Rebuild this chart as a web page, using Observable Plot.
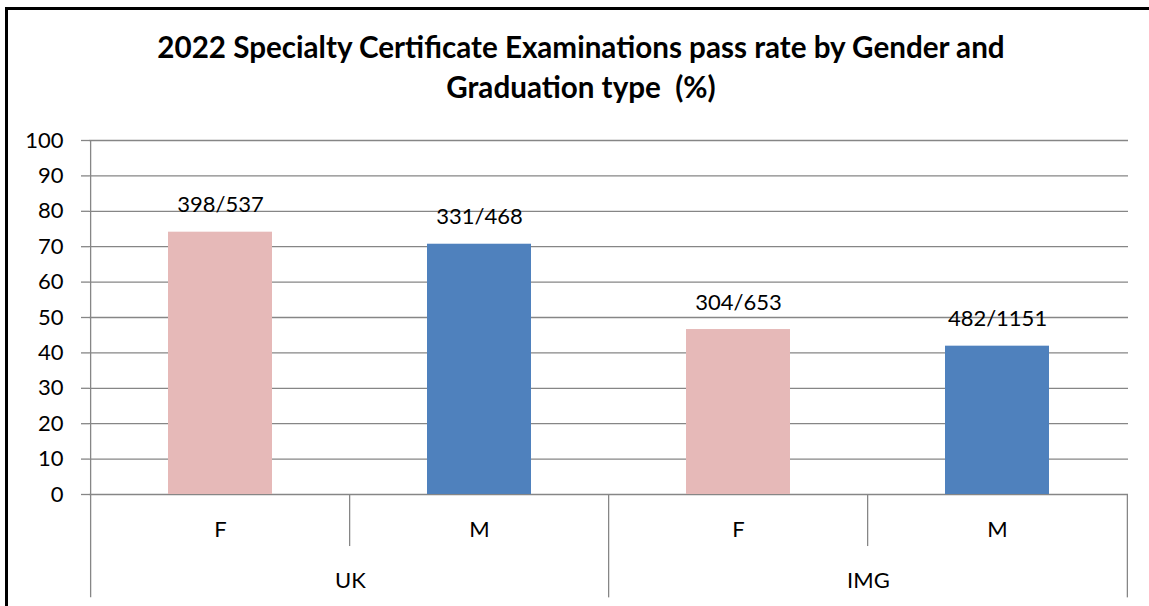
<!DOCTYPE html>
<html>
<head>
<meta charset="utf-8">
<script src="https://cdn.jsdelivr.net/npm/d3@7"></script>
<script src="https://cdn.jsdelivr.net/npm/@observablehq/plot@0.6"></script>
<style>
  html, body { margin: 0; padding: 0; background: #fff; }
  #wrap { position: relative; width: 1149px; height: 606px; overflow: hidden; font-family: Lato, "Open Sans", sans-serif; }
  #frame { position: absolute; left: 5px; top: 7px; right: -10px; bottom: -10px; border-left: 3px solid #000; border-top: 3px solid #000; }
  #title { position: absolute; left: 0; width: 1162px; top: 27px; text-align: center; font-weight: 700; font-size: 29.6px; line-height: 40px; color: #000; }
  #chart { position: absolute; left: 0; top: 0; }
  #chart svg text { font-variant-numeric: tabular-nums; }
</style>
</head>
<body>
<div id="wrap">
  <div id="frame"></div>
  <div id="chart"></div>
  <div id="title">2022 Specialty Certificate Examinations pass rate by Gender and<br>Graduation type&nbsp; (%)</div>
</div>
<script>
// ---- data ----
const groups = ["UK", "UK", "IMG", "IMG"];
const genders = ["F", "M", "F", "M"];
const passRates = [74.1, 70.7, 46.6, 41.9];
const passLabels = ["398/537", "331/468", "304/653", "482/1151"];
const yTicks = [0, 10, 20, 30, 40, 50, 60, 70, 80, 90, 100];

const rows = groups.map((g, i) => ({
  key: g + "|" + genders[i],
  group: g,
  gender: genders[i],
  value: passRates[i],
  label: passLabels[i]
}));
const keys = rows.map(d => d.key);

// ---- layout ----
const W = 1149, H = 606;
const mL = 89, mR = 21, mT = 140, mB = 112;
const step = (W - mL - mR) / keys.length;
const grid = "#868686";
const font = "Lato, 'Open Sans', sans-serif";
const fs = 22;

// category separators (left boundary of each category + right end)
const seps = rows.map((d, i) => ({
  key: d.key,
  long: i === 0 || rows[i - 1].group !== d.group,
  side: -1
}));
seps.push({ key: keys[keys.length - 1], long: true, side: 1 });

// group labels: centered across their categories
const groupNames = Array.from(new Set(groups));
const groupLabels = groupNames.map(g => {
  const members = rows.filter(d => d.group === g);
  return { key: members[0].key, name: g, span: members.length };
});

const shortDepth = -14.7, longDepth = -29.2;

const chart = Plot.plot({
  width: W,
  height: H,
  marginLeft: mL,
  marginRight: mR,
  marginTop: mT,
  marginBottom: mB,
  style: { fontFamily: font, fontSize: fs + "px", background: "transparent", overflow: "visible", color: "#000" },
  x: { type: "band", domain: keys, paddingInner: 0.6, paddingOuter: 0.3, axis: null },
  y: { domain: [0, 100], axis: null },
  marks: [
    Plot.gridY(yTicks, { stroke: grid, strokeOpacity: 1, strokeWidth: 1.3 }),
    Plot.tickY(yTicks, {
      y: d => d, frameAnchor: "left",
      stroke: grid, strokeWidth: 1.3,
      render: (index, scales, values, dims, ctx, next) => {
        // short tick stubs extending left of the plot frame
        const g = next(index, scales, values, dims, ctx);
        g.querySelectorAll("line").forEach(l => {
          l.setAttribute("x1", dims.marginLeft - 8);
          l.setAttribute("x2", dims.marginLeft);
        });
        return g;
      }
    }),
    Plot.text(yTicks, {
      y: d => d, text: d => String(d), frameAnchor: "left", dx: -26,
      textAnchor: "end", lineAnchor: "middle", fontSize: fs, fill: "#000",
      fontVariant: "tabular-nums"
    }),
    Plot.barY(rows, {
      x: "key", y: "value",
      fill: d => d.gender === "F" ? "#E6B9B8" : "#4F81BD"
    }),
    // category axis separators
    Plot.ruleX(seps.filter(d => d.side < 0 && d.long), {
      x: "key", y1: d => d.key === keys[0] ? 100 : 0, y2: longDepth, dx: -step / 2,
      stroke: grid, strokeWidth: 1.3
    }),
    Plot.ruleX(seps.filter(d => d.side < 0 && !d.long), {
      x: "key", y1: 0, y2: shortDepth, dx: -step / 2,
      stroke: grid, strokeWidth: 1.3
    }),
    Plot.ruleX(seps.filter(d => d.side > 0), {
      x: "key", y1: 0, y2: longDepth, dx: step / 2,
      stroke: grid, strokeWidth: 1.3
    }),
    // gender labels
    Plot.text(rows, {
      x: "key", y: () => -10, text: "gender",
      fontSize: fs, fill: "#000", lineAnchor: "middle"
    }),
    // group labels (centered over their span of categories)
    ...groupLabels.map(gl => Plot.text([gl], {
      x: "key", y: () => -24.4, text: "name",
      dx: (gl.span - 1) * step / 2,
      fontSize: fs, fill: "#000", lineAnchor: "middle"
    })),
    // value labels above bars
    Plot.text(rows, {
      x: "key", y: "value", text: "label", dy: -27,
      fontSize: fs, fill: "#000", lineAnchor: "middle",
      fontVariant: "tabular-nums"
    })
  ]
});
document.getElementById("chart").appendChild(chart);
</script>
</body>
</html>
